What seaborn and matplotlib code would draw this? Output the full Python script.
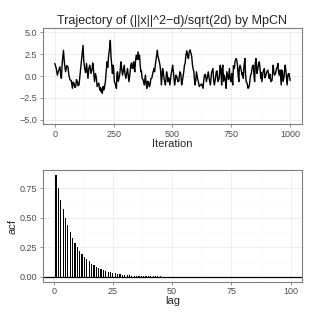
import numpy as np
import pandas as pd
import matplotlib
matplotlib.use("Agg")
import matplotlib.pyplot as plt
from matplotlib.ticker import MultipleLocator
import seaborn as sns

# ---------------- data ----------------
# main turning points of the trace
iteration = [0, 11, 22, 28, 37, 46, 56, 65, 75, 82, 89, 96, 103, 110, 120, 127, 135, 141,
             149, 159, 163, 169, 177, 183, 191, 197, 202, 208, 215, 222, 229, 236, 243, 247,
             253, 262, 267, 273, 281, 288, 295, 302, 309, 315, 323, 329, 335, 340, 346, 354,
             360, 366, 371, 380, 385, 391, 398, 405, 412, 422, 427, 436, 441, 447, 453, 458,
             464, 470, 475, 481, 489, 501, 509, 515, 523, 531, 539, 546, 551, 557, 565, 571,
             579, 585, 591, 596, 602, 610, 619, 630, 636, 644, 652, 661, 672, 678, 686, 693,
             703, 709, 714, 720, 728, 734, 742, 749, 756, 763, 770, 776, 782, 787, 796, 801,
             808, 813, 821, 827, 832, 838, 844, 849, 855, 863, 869, 875, 880, 890, 897, 905,
             911, 918, 928, 934, 942, 948, 953, 962, 967, 973, 979, 987, 995]
value = [1.44, 0.11, 1.06, -0.27, 2.95, 0.49, 1.06, -0.45, -1.40, -0.83, -1.21, -0.64, -1.02,
         0.87, 3.52, 0.87, 1.44, -0.27, 1.25, 0.87, 1.25, -0.64, -0.27, -1.02, -1.59, -1.78,
         -1.97, -1.59, -0.64, 1.63, 2.39, 4.09, 0.87, 1.25, -0.64, -1.40, 0.49, -0.27, 1.63,
         0.11, 1.25, -0.27, 0.87, -0.64, 1.25, 0.87, 1.63, 0.49, 2.39, 2.77, 2.39, 0.49,
         -0.27, -1.02, 0.11, -1.40, -0.64, -1.02, -0.27, 0.87, 1.25, 2.95, 2.01, 1.25, -1.02,
         0.87, -0.27, -1.02, 0.49, -0.64, -1.02, 1.25, -1.02, 0.11, -0.64, 0.49, -1.02, 0.11,
         1.25, 2.39, 2.20, 2.77, 2.58, 1.25, 0.49, -1.02, 0.49, -0.64, -1.02, -1.40, 0.11,
         -0.64, 0.49, -1.02, 0.87, -1.02, 0.49, -0.64, 1.25, -1.02, 1.25, 0.11, -1.40, 0.11,
         0.87, -0.64, -1.02, 0.87, 2.01, 1.25, -0.64, 1.25, 0.11, -0.27, 2.01, -0.64, -1.40,
         -1.02, 0.11, 0.87, 1.25, -0.64, 2.01, 0.87, 1.63, -0.27, -0.64, 0.87, 0.11, 0.68,
         -0.27, -0.64, 1.25, 0.11, 0.87, 1.44, 0.11, -1.02, 0.49, -0.27, 1.25, -1.02, 0.30]

# in-between wiggles of the trace
iteration_fine = [6, 16, 25, 32, 41, 51, 60, 70, 78, 85, 92, 99, 106, 115, 123, 131, 138,
                  145, 154, 161, 166, 173, 180, 187, 194, 199, 205, 211, 218, 225, 232, 239,
                  245, 250, 257, 264, 270, 277, 284, 291, 298, 305, 312, 319, 326, 332, 337,
                  343, 350, 357, 363, 368, 375, 382, 388, 394, 401, 408, 417, 424, 431, 438,
                  444, 450, 455, 461, 467, 472, 478, 485, 495, 505, 512, 519, 527, 535, 542,
                  548, 554, 561, 568, 575, 582, 588, 593, 599, 606, 614, 624, 633, 640, 648,
                  656, 666, 675, 682, 689, 698, 706, 711, 717, 724, 731, 738, 745, 752, 759,
                  766, 773, 779, 784, 791, 798, 804, 810, 817, 824, 829, 835, 841, 846, 852,
                  859, 866, 872, 877, 885, 893, 901, 908, 914, 923, 931, 938, 945, 950, 957,
                  964, 970, 976, 983, 991, 1000]
value_fine = [0.9, 0.6, 0.2, 1.6, 1.5, 1.2, 0.1, -0.5, -0.7, -1.3, -0.4, -1.1, -0.2, 2.2,
              1.8, 0.4, 0.6, 0.9, 0.3, 1.5, 0.2, 0.3, -1.2, -0.8, -1.3, -1.5, -1.2, -1.3,
              0.4, 1.0, 3.0, 2.2, 0.3, 0.9, -0.9, 0.3, -0.6, 0.4, 0.9, 0.6, 0.3, 0.2, 0.1,
              0.2, 1.5, 0.9, 1.0, 1.7, 1.9, 1.9, 1.2, 0.6, -0.4, -0.6, -0.9, -0.6, -1.2,
              -0.3, 0.4, 0.5, 2.0, 2.3, 1.6, 0.5, -0.2, 0.5, -0.6, -0.5, 0.1, -0.2, 0.3, 0.2,
              -0.5, -0.1, -0.6, 0.3, -0.6, 0.5, 1.5, 2.9, 2.0, 3.0, 2.2, 0.8, -0.3, -0.5,
              -0.2, -1.2, -0.9, -0.5, 0.2, -0.2, -0.3, 0.4, -0.5, -0.4, 0.6, -0.3, 0.4, 0.8,
              -0.6, -0.3, 0.5, -0.4, -0.3, 0.3, 1.2, 1.7, 1.9, 0.1, 0.9, 0.8, 0.4, 1.2, 0.5,
              -0.8, -1.3, -0.5, 0.3, 1.2, 0.2, 1.5, 0.3, 1.5, 0.9, 0.4, 0.5, -0.2, 0.5, 0.3,
              0.2, -0.5, 0.4, 0.3, 1.0, 0.6, 0.7, 0.7, -0.6, 0.6, 0.3, 0.2, -0.5]

lag = list(range(1, 101))
acf = [0.86, 0.75, 0.65, 0.57, 0.50, 0.44, 0.38, 0.33, 0.29, 0.25,
       0.22, 0.19, 0.17, 0.15, 0.13, 0.11, 0.10, 0.085, 0.075, 0.065,
       0.057, 0.050, 0.044, 0.038, 0.033, 0.029, 0.025, 0.022, 0.019, 0.017,
       0.015, 0.013, 0.011, 0.010, 0.009, 0.008, 0.007, 0.006, 0.005, 0.005,
       0.004, 0.004, 0.003, 0.003, 0.003, 0.002, 0.002, 0.002, 0.002, 0.001,
       0.001, 0.001, 0.001, 0.001, 0.001, 0.001, 0.0, 0.0, 0.0, 0.0,
       0.0, 0.0, 0.0, 0.0, 0.0, 0.0, 0.0, 0.0, 0.0, 0.0,
       0.0, 0.0, 0.0, 0.0, 0.0, 0.0, 0.0, 0.0, 0.0, 0.0,
       0.0, 0.0, 0.0, 0.0, 0.0, 0.0, 0.0, 0.0, 0.0, 0.0,
       0.0, 0.0, 0.0, 0.0, 0.0, 0.0, 0.0, 0.0, 0.0, 0.0]

trace_df = pd.DataFrame({"Iteration": iteration + iteration_fine,
                         "value": value + value_fine}).sort_values("Iteration")
acf_df = pd.DataFrame({"lag": lag, "acf": acf})

# ---------------- style ----------------
sns.set_theme(style="white")
plt.rcParams["font.family"] = ["Liberation Sans", "DejaVu Sans"]

GRID_MAJOR = "#EBEBEB"
GRID_MINOR = "#F5F5F5"
BORDER = "#7F7F7F"
TICK_TXT = "#4D4D4D"


def style_panel(ax):
    ax.set_facecolor("white")
    ax.grid(True, which="major", color=GRID_MAJOR, linewidth=0.6)
    ax.grid(True, which="minor", color=GRID_MINOR, linewidth=0.4)
    ax.set_axisbelow(True)
    for s in ax.spines.values():
        s.set_color(BORDER)
        s.set_linewidth(0.8)
    ax.tick_params(which="major", length=2.5, width=0.6, color=BORDER, labelsize=6.5,
                   labelcolor=TICK_TXT, pad=1.5, bottom=True, left=True)
    ax.tick_params(which="minor", length=0)


fig = plt.figure(figsize=(3.15, 3.15), dpi=100)
ax1 = fig.add_axes([0.1365, 0.606, 0.822, 0.305])
ax2 = fig.add_axes([0.1365, 0.105, 0.822, 0.355])

# ---------------- trajectory ----------------
sns.lineplot(data=trace_df, x="Iteration", y="value", color="black", linewidth=1.0,
             sort=False, ax=ax1)
ax1.set_xlim(-50, 1050)
ax1.set_ylim(-5.5, 5.5)
ax1.xaxis.set_major_locator(MultipleLocator(250))
ax1.xaxis.set_minor_locator(MultipleLocator(125))
ax1.yaxis.set_minor_locator(MultipleLocator(1.25))
ax1.set_yticks([-5, -2.5, 0, 2.5, 5])
ax1.set_yticklabels(["\u22125.0", "\u22122.5", "0.0", "2.5", "5.0"])
style_panel(ax1)
ax1.set_xlabel("Iteration", fontsize=8, labelpad=0)
ax1.set_ylabel("")
ax1.set_title("Trajectory of (||x||^2\u2212d)/sqrt(2d) by MpCN", fontsize=9, pad=3)

# ---------------- acf ----------------
sns.barplot(data=acf_df, x="lag", y="acf", native_scale=True, width=0.5,
            color="black", linewidth=0, saturation=1, ax=ax2)
ax2.axhline(0, color="black", linewidth=0.9)
ax2.set_xlim(-4.5, 104.8)
ax2.set_ylim(-0.043, 0.903)
ax2.xaxis.set_minor_locator(MultipleLocator(12.5))
ax2.yaxis.set_minor_locator(MultipleLocator(0.125))
ax2.set_xticks([0, 25, 50, 75, 100])
ax2.set_xticklabels(["0", "25", "50", "75", "100"])
ax2.set_yticks([0, 0.25, 0.5, 0.75])
ax2.set_yticklabels(["0.00", "0.25", "0.50", "0.75"])
style_panel(ax2)
ax2.set_xlabel("lag", fontsize=8, labelpad=0)
ax2.set_ylabel("acf", fontsize=8, labelpad=2)

fig.savefig("out.png", dpi=100)
